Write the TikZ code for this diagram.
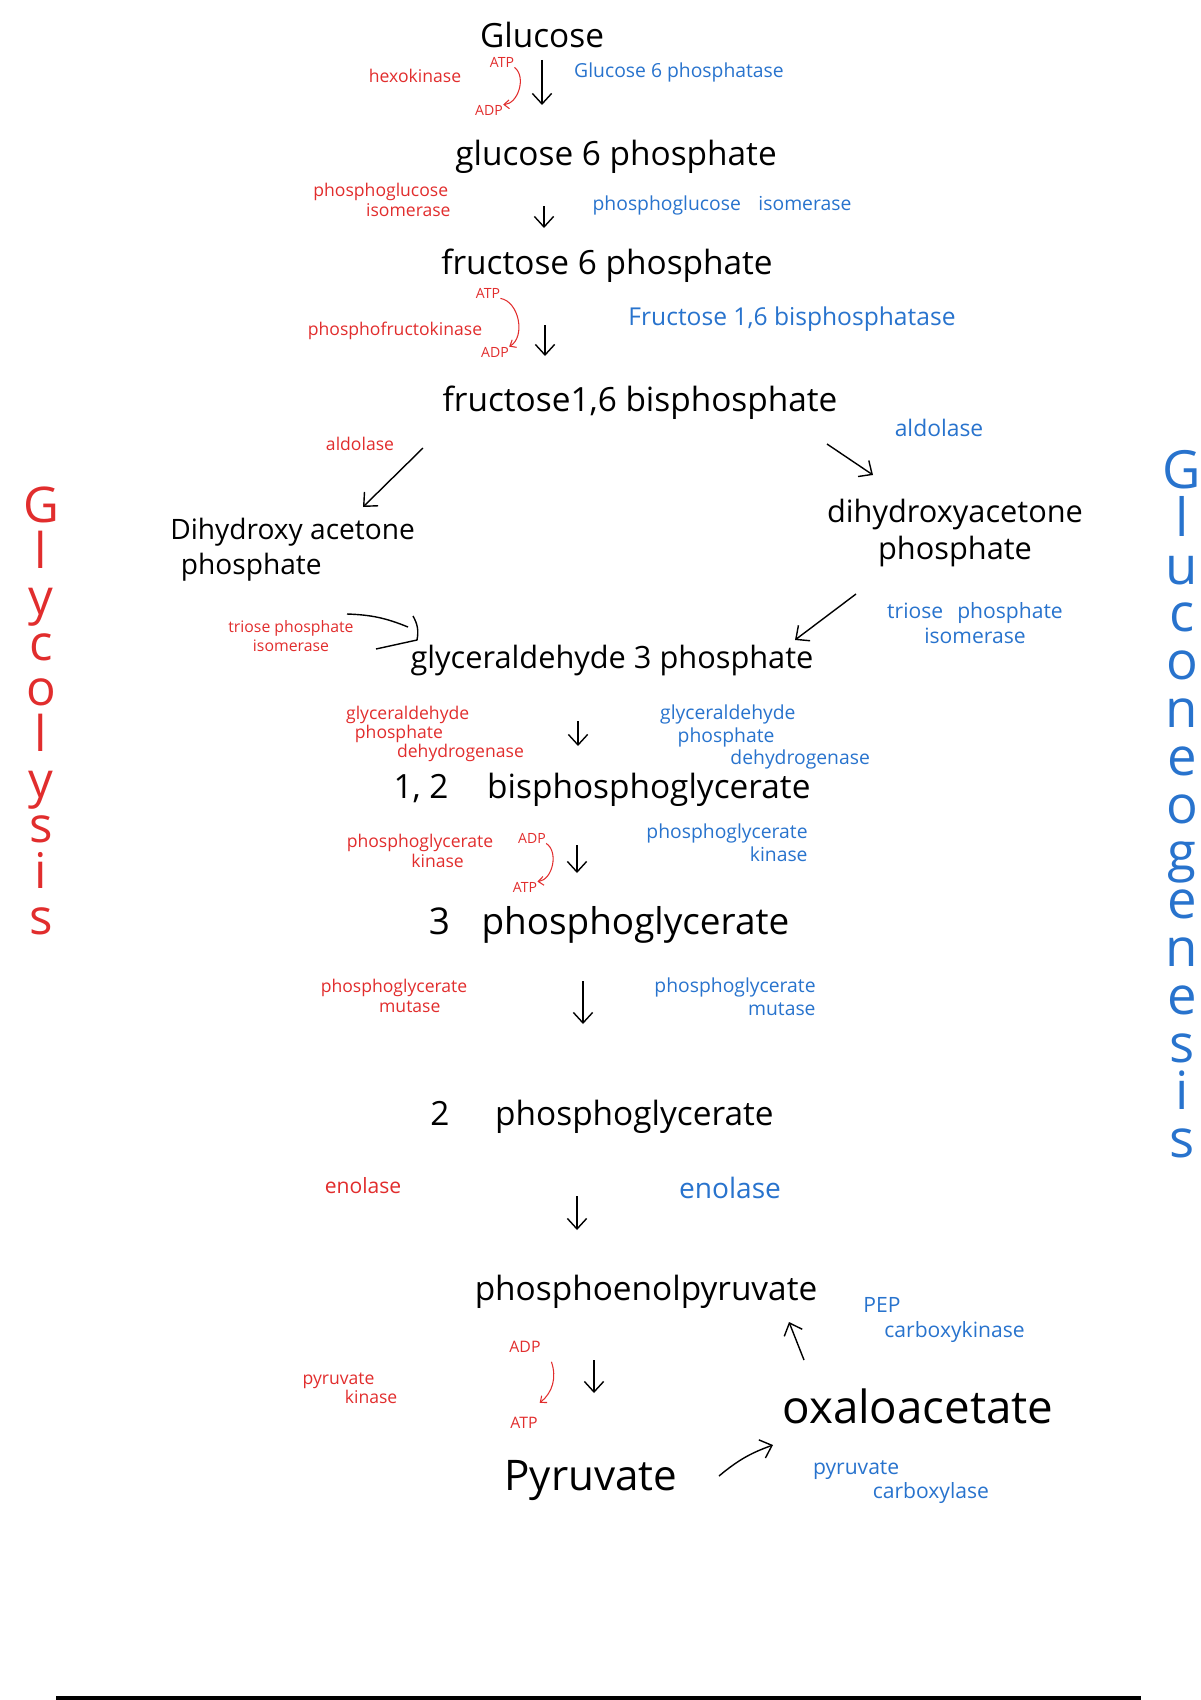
\documentclass[tikz,border=0pt]{standalone}
\usepackage{fontspec}
\setmainfont{Open Sans}
\usepackage{xcolor}
\usetikzlibrary{arrows.meta}
\definecolor{glycred}{RGB}{225,45,45}
\definecolor{gluconblue}{RGB}{40,115,205}

\begin{document}
\begin{tikzpicture}[x=0.02cm,y=-0.02cm,>={Straight Barb[length=6pt,width=11pt]},
    met node/.style={inner sep=0pt,font=\fontsize{19}{22}\selectfont},
    red enz/.style={inner sep=0pt,text=glycred,font=\fontsize{10}{11}\selectfont},
    blue enz/.style={inner sep=0pt,text=gluconblue,font=\fontsize{11}{13}\selectfont},
    cofac/.style={inner sep=0pt,text=glycred,font=\fontsize{8}{9}\selectfont},
    rxn/.style={->,thick},
    cofarrow/.style={->,>={Straight Barb[length=3pt,width=5pt]},glycred,semithick},
    title col/.style={inner sep=0pt,anchor=north,align=center}]
    \useasboundingbox (0,0) rectangle (1200,1700);

    % Metabolites
    \node[met node] (glc) at (542,35) {Glucose};
    \node[met node] (g6p) at (616,157) {glucose 6 phosphate};
    \node[met node] (f6p) at (607,266) {fructose 6 phosphate};
    \node[met node] (f16bp) at (640,403) {fructose1,6 bisphosphate};
    \node[met node,align=left,anchor=west,font=\fontsize{16}{20}\selectfont] (dhapL) at (170,550) {Dihydroxy acetone\\\hspace{6pt}phosphate};
    \node[met node,align=center,font=\fontsize{17.5}{21}\selectfont] (dhapR) at (955,533) {dihydroxyacetone\\phosphate};
    \node[met node,font=\fontsize{17.5}{21}\selectfont] (g3p) at (612,661) {glyceraldehyde 3 phosphate};
    \node[met node] (bpg) at (602,790) {1, 2\hspace{22pt}bisphosphoglycerate};
    \node[met node,font=\fontsize{21}{25}\selectfont] (pg3) at (609,925) {3\hspace{18pt}phosphoglycerate};
    \node[met node] (pg2) at (602,1117) {2\hspace{26pt}phosphoglycerate};
    \node[met node] (pep) at (646,1292) {phosphoenolpyruvate};
    \node[met node,font=\fontsize{26}{30}\selectfont] (oaa) at (918,1406) {oxaloacetate};
    \node[met node,font=\fontsize{24}{28}\selectfont] (pyr) at (591,1480) {Pyruvate};

    % Glycolysis enzymes
    \node[red enz] (hk) at (415,76) {hexokinase};
    \node[red enz,align=left] (pgiR) at (382,200) {phosphoglucose\\\hspace{30pt}isomerase};
    \node[red enz] (pfk) at (395,331) {phosphofructokinase};
    \node[red enz] (aldR) at (360,444) {aldolase};
    \node[red enz,align=center,font=\fontsize{9}{11}\selectfont] (tpiR) at (291,636) {triose phosphate\\isomerase};
    \node[red enz,align=left] (gapdhR) at (435,734) {glyceraldehyde\\\hspace{5pt}phosphate\\\hspace{29pt}dehydrogenase};
    \node[red enz,align=center] (pgkR) at (420,851) {phosphoglycerate\\\hspace{20pt}kinase};
    \node[red enz,align=center] (pgmR) at (394,996) {phosphoglycerate\\\hspace{18pt}mutase};
    \node[red enz,font=\fontsize{12}{14}\selectfont] (enoR) at (363,1186) {enolase};
    \node[red enz,align=left] (pkR) at (350,1388) {pyruvate\\\hspace{24pt}kinase};

    % Cofactors
    \node[cofac] (atp1) at (502,62) {ATP};
    \node[cofac] (adp1) at (489,110) {ADP};
    \node[cofac] (atp2) at (488,293) {ATP};
    \node[cofac] (adp2) at (495,352) {ADP};
    \node[cofac] (adp3) at (532,838) {ADP};
    \node[cofac] (atp3) at (525,887) {ATP};
    \node[cofac,font=\fontsize{9}{10}\selectfont] (adp4) at (525,1347) {ADP};
    \node[cofac,font=\fontsize{9}{10}\selectfont] (atp4) at (524,1423) {ATP};

    % Gluconeogenesis enzymes
    \node[blue enz] (g6pase) at (679,72) {Glucose 6 phosphatase};
    \node[blue enz] (pgiB) at (722,205) {phosphoglucose\hspace{10pt}isomerase};
    \node[blue enz,font=\fontsize{14}{16}\selectfont] (fbpase) at (792,319) {Fructose 1,6 bisphosphatase};
    \node[blue enz,font=\fontsize{13}{15}\selectfont] (aldB) at (939,428) {aldolase};
    \node[blue enz,align=center,font=\fontsize{12}{14}\selectfont] (tpiB) at (975,623) {triose\hspace{8pt}phosphate\\isomerase};
    \node[blue enz,align=left] (gapdhB) at (765,737) {glyceraldehyde\\\hspace{10pt}phosphate\\\hspace{40pt}dehydrogenase};
    \node[blue enz,align=right] (pgkB) at (727,843) {phosphoglycerate\\kinase\hspace{4pt}};
    \node[blue enz,align=right] (pgmB) at (735,997) {phosphoglycerate\\mutase\hspace{6pt}};
    \node[blue enz,font=\fontsize{16}{18}\selectfont] (enoB) at (730,1188) {enolase};
    \node[blue enz,align=left,font=\fontsize{12}{14}\selectfont] (pepck) at (944,1320) {PEP\\\hspace{12pt}carboxykinase};
    \node[blue enz,align=left,font=\fontsize{12}{14}\selectfont] (pcB) at (901,1482) {pyruvate\\\hspace{34pt}carboxylase};

    % Side titles
    \node[title col,text=glycred,font=\fontsize{28}{26}\selectfont] (glycol) at (41,487) {G\\l\\y\\c\\o\\l\\y\\s\\i\\s};
    \node[title col,text=gluconblue,font=\fontsize{30}{27.2}\selectfont] (gluconeo) at (1182,450) {G\\l\\u\\c\\o\\n\\e\\o\\g\\e\\n\\e\\s\\i\\s};

    % Arrow ends
    \coordinate (glc-o) at (542,60);   \coordinate (g6p-i) at (542,105);
    \coordinate (g6p-o) at (544,206);  \coordinate (f6p-i) at (544,228);
    \coordinate (f6p-o) at (545,325);  \coordinate (fbp-i) at (545,356);
    \coordinate (fbp-l) at (423,448);  \coordinate (dhL-i) at (363,507);
    \coordinate (fbp-r) at (827,444);  \coordinate (dhR-i) at (873,475);
    \coordinate (dhL-o) at (347,614);  \coordinate (tpi-a) at (408,627);
    \coordinate (tpi-b) at (413,616);  \coordinate (tpi-c) at (417,640);
    \coordinate (tpi-d) at (376,649);
    \coordinate (dhR-o) at (856,594);  \coordinate (g3p-i) at (795,640);
    \coordinate (g3p-o) at (578,721);  \coordinate (bpg-i) at (578,746);
    \coordinate (bpg-o) at (577,845);  \coordinate (pg3-i) at (577,873);
    \coordinate (pg3-o) at (583,981);  \coordinate (pg2-i) at (583,1024);
    \coordinate (pg2-o) at (577,1196); \coordinate (pep-i) at (577,1230);
    \coordinate (pep-o) at (594,1360); \coordinate (pyr-i) at (594,1393);
    \coordinate (oaa-o) at (804,1360); \coordinate (pep-b) at (789,1322);
    \coordinate (pyr-o) at (719,1476); \coordinate (oaa-i) at (773,1445);

    % Reactions
    \draw[rxn] (glc-o) -- (g6p-i);
    \draw[rxn] (g6p-o) -- (f6p-i);
    \draw[rxn] (f6p-o) -- (fbp-i);
    \draw[rxn] (fbp-l) -- (dhL-i);
    \draw[rxn] (fbp-r) -- (dhR-i);
    \draw[thick] (dhL-o) to[bend left=10] (tpi-a);
    \draw[thick] (tpi-b) to[bend left=20] (tpi-c) -- (tpi-d);
    \draw[rxn] (dhR-o) -- (g3p-i);
    \draw[rxn] (g3p-o) -- (bpg-i);
    \draw[rxn] (bpg-o) -- (pg3-i);
    \draw[rxn] (pg3-o) -- (pg2-i);
    \draw[rxn] (pg2-o) -- (pep-i);
    \draw[rxn] (pep-o) -- (pyr-i);
    \draw[rxn] (oaa-o) -- (pep-b);
    \draw[rxn] (pyr-o) to[bend left=10] (oaa-i);

    % Cofactor arrows
    \draw[cofarrow] (atp1.south east) to[bend left=70] (adp1.north east);
    \draw[cofarrow] (atp2.south east) to[bend left=70] (adp2.north east);
    \draw[cofarrow] (adp3.south east) to[bend left=70] (atp3.north east);
    \draw[cofarrow] ([xshift=6pt,yshift=-5pt]adp4.south east) to[bend left=35] ([xshift=1pt,yshift=8pt]atp4.north east);

    % Bottom rule
    \draw[line width=2.4pt] (56,1698) -- (1141,1698);
\end{tikzpicture}
\end{document}
